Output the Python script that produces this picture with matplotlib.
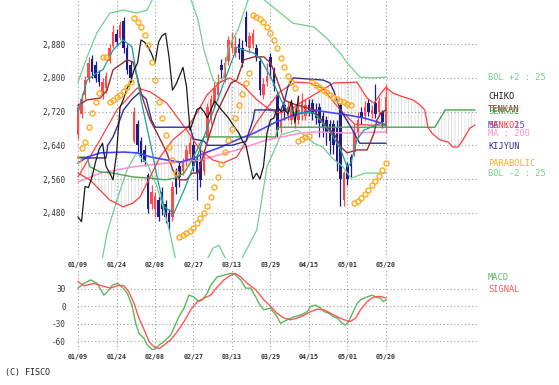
import numpy as np
import matplotlib.pyplot as plt

plt.rcParams['font.family'] = ['DejaVu Sans Mono']
plt.rcParams['hatch.linewidth'] = 0.45

# --- daily candles, bar 0 = 01/09 ---
dates = ['01/09', '01/24', '02/08', '02/27', '03/13', '03/29', '04/15', '05/01', '05/20']
date_pos = [0, 11, 22, 33, 44, 55, 66, 77, 88]

opens = [2665, 2715, 2760, 2800, 2845, 2830, 2810, 2760, 2775, 2840,
         2875, 2905, 2895, 2935, 2870, 2830, 2650, 2690, 2650, 2630,
         2570, 2500, 2490, 2510, 2530, 2500, 2480, 2470, 2575, 2590,
         2580, 2600, 2620, 2640, 2610, 2600, 2580, 2660, 2700, 2740,
         2760, 2830, 2800, 2840, 2870, 2860, 2880, 2870, 2945, 2870,
         2880, 2870, 2840, 2760, 2790, 2850, 2820, 2760, 2680, 2735,
         2710, 2700, 2690, 2700, 2720, 2710, 2735, 2740, 2725, 2730,
         2710, 2700, 2690, 2690, 2680, 2735, 2510, 2590, 2612, 2625,
         2670, 2720, 2710, 2740, 2715, 2740, 2720, 2720, 2680]
closes = [2730, 2750, 2795, 2835, 2815, 2800, 2790, 2790, 2805, 2870,
          2910, 2885, 2925, 2870, 2820, 2800, 2720, 2640, 2615, 2600,
          2490, 2530, 2520, 2470, 2490, 2470, 2459, 2542, 2540, 2565,
          2600, 2630, 2645, 2590, 2575, 2558, 2620, 2730, 2750, 2775,
          2790, 2819, 2835, 2890, 2885, 2874, 2858, 2835, 2885, 2900,
          2906, 2850, 2771, 2785, 2805, 2825, 2780, 2676, 2700, 2725,
          2730, 2720, 2705, 2725, 2745, 2735, 2724, 2715, 2705, 2692,
          2680, 2669, 2650, 2640, 2600, 2560, 2574, 2560, 2590, 2669,
          2700, 2705, 2732, 2720, 2725, 2715, 2745, 2695, 2755]
highs = [2740, 2765, 2805, 2850, 2855, 2840, 2820, 2800, 2815, 2880,
         2925, 2915, 2935, 2945, 2880, 2840, 2730, 2700, 2660, 2640,
         2575, 2545, 2530, 2520, 2540, 2510, 2490, 2555, 2585, 2600,
         2610, 2640, 2660, 2650, 2620, 2640, 2630, 2740, 2760, 2790,
         2810, 2845, 2850, 2900, 2910, 2900, 2895, 2890, 2960, 2910,
         2915, 2880, 2850, 2800, 2835, 2860, 2825, 2770, 2730, 2740,
         2745, 2750, 2730, 2760, 2765, 2750, 2750, 2750, 2740, 2740,
         2720, 2710, 2700, 2700, 2700, 2740, 2580, 2600, 2620, 2690,
         2720, 2730, 2745, 2750, 2735, 2785, 2755, 2725, 2785]
lows = [2655, 2705, 2750, 2790, 2800, 2790, 2780, 2750, 2765, 2835,
        2870, 2875, 2890, 2860, 2810, 2790, 2645, 2625, 2600, 2590,
        2480, 2490, 2470, 2460, 2475, 2455, 2440, 2460, 2525, 2540,
        2570, 2590, 2610, 2580, 2510, 2540, 2570, 2650, 2690, 2730,
        2750, 2800, 2790, 2830, 2860, 2850, 2845, 2825, 2875, 2860,
        2870, 2840, 2760, 2750, 2780, 2800, 2770, 2660, 2670, 2700,
        2700, 2690, 2680, 2690, 2700, 2700, 2710, 2700, 2690, 2660,
        2660, 2640, 2620, 2620, 2580, 2495, 2495, 2545, 2565, 2615,
        2660, 2690, 2700, 2710, 2705, 2705, 2710, 2680, 2670]

parabolic = [2605, 2634, 2648, 2683, 2717, 2743, 2764, 2850, 2850, 2743,
             2748, 2755, 2760, 2769, 2778, 2790, 2942, 2933, 2921, 2902,
             2878, 2838, 2795, 2743, 2705, 2665, 2636, 2605, 2574, 2422,
             2427, 2432, 2436, 2443, 2455, 2467, 2480, 2497, 2517, 2540,
             2565, 2595, 2625, 2652, 2678, 2705, 2735, 2762, 2787, 2812,
             2950, 2945, 2940, 2932, 2920, 2906, 2890, 2870, 2848, 2825,
             2805, 2790, 2776, 2650, 2655, 2660, 2663, 2790, 2784, 2778,
             2772, 2766, 2760, 2755, 2750, 2746, 2742, 2739, 2736, 2503,
             2508, 2515, 2525, 2535, 2545, 2556, 2568, 2581, 2598]

# --- indicator lines: (bar, price) ---
bolu_x = [0, 2.6, 5.4, 9.1, 12.9, 16.9, 19.7, 21.5, 25, 30, 32.3, 34.3, 36, 38.6, 40, 41.5,
          43, 45.7, 48.6, 51, 54.3, 61.4, 67.4, 71, 74.9, 77, 80.6, 84, 88]
bolu_y = [2790, 2850, 2907, 2954, 2961, 2954, 2961, 2990, 3030, 3030, 2985, 2938, 2866, 2795, 2783, 2800,
          2873, 2914, 2985, 3000, 2978, 2930, 2921, 2895, 2859, 2835, 2802, 2800, 2802]
boll_x = [0, 4, 6.9, 8.3, 11.1, 14, 16, 16.9, 17.7, 19.7, 22.6, 24.3, 26.3, 27.7, 30, 35, 38.6,
          40.3, 42, 44, 46.6, 51.1, 54, 58, 62.6, 65.4, 67.4, 70, 72.3, 75.7, 78, 82, 88]
boll_y = [2300, 2330, 2368, 2432, 2510, 2581, 2612, 2624, 2612, 2598, 2541, 2494, 2432, 2375, 2320, 2340, 2396,
          2403, 2373, 2340, 2368, 2439, 2589, 2665, 2676, 2660, 2645, 2636, 2612, 2589, 2562, 2574, 2574]
bolm_x = [0, 6.3, 11.1, 16.9, 20.6, 25.4, 31.1, 34.9, 38.6, 41.4, 45.4, 48.3, 51.1, 54, 57.7,
          62, 66.3, 70, 74.9, 79.1, 83.4, 88]
bolm_y = [2565, 2653, 2724, 2776, 2767, 2740, 2676, 2629, 2605, 2598, 2612, 2653, 2695, 2729, 2767,
          2790, 2788, 2775, 2724, 2690, 2688, 2688]
ma25_x = [0, 2.6, 6.3, 13.1, 16.9, 20.9, 25.4, 29.4, 33.1, 36.9, 40.9, 45.4, 50.3, 56, 61.7,
          67.4, 71.1, 76.9, 81.7, 86.6, 88]
ma25_y = [2598, 2612, 2622, 2624, 2622, 2612, 2605, 2600, 2610, 2624, 2636, 2653, 2669, 2693, 2712,
          2724, 2719, 2712, 2705, 2693, 2688]
ma200_x = [0, 6.3, 15.7, 25.4, 34.9, 45.4, 54, 63.7, 68.3, 76.9, 88]
ma200_y = [2553, 2574, 2589, 2598, 2605, 2629, 2653, 2669, 2672, 2669, 2672]
ma5_x = [0, 2.6, 5.4, 7.1, 10, 12.9, 15.4, 18, 20.9, 22.6, 24.6, 27.4, 30.3, 34, 38, 40.9, 45.4,
         47.4, 50.3, 52.3, 55.1, 58, 59.7, 61.7, 67.4, 72.3, 75.1, 76.9, 78, 79.7, 81.7, 86.6, 88]
ma5_y = [2717, 2795, 2812, 2819, 2866, 2890, 2874, 2748, 2636, 2565, 2494, 2479, 2534, 2612, 2707, 2771, 2873,
         2866, 2859, 2843, 2802, 2748, 2724, 2717, 2717, 2669, 2629, 2589, 2598, 2653, 2676, 2693, 2688]
tenkan_x = [0, 2.6, 6.3, 8.3, 10, 14, 15.7, 16.9, 18.6, 20.6, 22.6, 25.4, 27.1, 29.1, 31, 32.6,
            34.3, 36, 37.7, 39.6, 41.4, 43.7, 45.4, 47.4, 50.3, 53.1, 55.1, 56.9, 58.9, 60.9,
            67.4, 71.1, 73.1, 75.1, 76.9, 79.7, 82.6, 84.6, 85.4, 86.6, 88]
tenkan_y = [2735, 2748, 2752, 2771, 2819, 2843, 2838, 2802, 2748, 2700, 2669, 2622, 2581, 2558, 2558, 2574,
            2574, 2622, 2669, 2717, 2748, 2788, 2795, 2843, 2850, 2850, 2835, 2795, 2748, 2740,
            2724, 2683, 2669, 2636, 2622, 2629, 2629, 2669, 2700, 2717, 2724]
kijun_x = [0, 8, 8.5, 10, 11.5, 13, 15.5, 17.5, 19.5, 21, 22, 32, 33, 36, 37, 44, 48, 50, 50.5,
           58, 59, 60, 61.5, 70, 72, 73, 75, 78, 80.5, 88]
kijun_y = [2610, 2610, 2640, 2660, 2690, 2724, 2750, 2765, 2750, 2700, 2683, 2683, 2655, 2650, 2640, 2640,
           2650, 2700, 2724, 2724, 2745, 2780, 2800, 2795, 2788, 2771, 2724, 2683, 2645, 2645]
senko1_x = [0, 3.4, 9.1, 12.9, 15.7, 17.7, 20.6, 23.4, 27.1, 31.1, 34, 36.9, 40.6, 43.4, 47.1,
            51.1, 54.9, 57.7, 60.6, 63.4, 67.4, 73.1, 79.7, 82.6, 84.6, 86.6, 88, 90, 92.9, 95.7,
            97.7, 99.1, 100, 101.1, 103.4, 105.7, 107.1, 108.6, 110, 112, 113.4]
senko1_y = [2574, 2558, 2510, 2494, 2503, 2517, 2565, 2612, 2653, 2681, 2717, 2760, 2790, 2800, 2783,
            2748, 2724, 2717, 2724, 2740, 2760, 2788, 2790, 2752, 2740, 2764, 2778, 2764, 2755, 2748,
            2736, 2724, 2683, 2669, 2653, 2648, 2636, 2636, 2653, 2681, 2688]
senko2_x = [0, 2.6, 3.4, 6.3, 10, 15.7, 20.6, 24.9, 27.7, 30.3, 32.6, 34.9, 36, 56.5, 57.2,
            102, 104.9, 113.4]
senko2_y = [2612, 2612, 2589, 2577, 2574, 2565, 2562, 2558, 2562, 2574, 2605, 2645, 2660, 2660, 2683,
            2683, 2724, 2724]

# --- MACD panel: (bar, value) ---
macd_x = [0, 1.7, 3.6, 5.5, 7.4, 8.4, 9.8, 11.2, 12.6, 14.1, 15.5, 16.5, 17.4, 18.9, 19.8, 21.2,
          22.2, 23.2, 24.6, 26.5, 27.4, 28.8, 30.3, 31.7, 33.1, 34.6, 35.5, 36.9, 37.9, 39.8,
          41.7, 43.6, 44.5, 46.5, 47.9, 49.3, 50.8, 51.7, 53.1, 55, 56.9, 57.9, 59.8, 61.7,
          63.6, 65.5, 66.5, 67.9, 69.3, 70.3, 71.7, 73.1, 74.1, 75.5, 76.4, 77.4, 78.4, 79.8,
          80.7, 82.6, 84.1, 85, 86.4, 87.2, 88]
macd_v = [31, 39, 45, 39, 19, 25, 36, 39, 33, 22, 0, -29, -46, -55, -66, -74,
          -72, -66, -60, -49, -37, -18, -3, 19, 16, 8, 11, 22, 36, 50,
          53, 56, 56, 45, 31, 31, 16, 5, -6, -3, -18, -29, -23, -18,
          -15, -9, 0, 2, -3, -9, -12, -18, -20, -29, -32, -26, -12, 5,
          11, 16, 19, 16, 14, 8, 11]
signal_x = [0, 1.7, 4.5, 7.4, 9.3, 11.7, 13.1, 14.5, 16, 17.4, 18.9, 20.3, 21.7, 23.2, 24.6,
            26.5, 28.4, 30.3, 32.2, 34.1, 36, 37.9, 39.8, 41.7, 43.6, 45, 46.5, 48.4, 50.8,
            53.1, 55, 56.9, 58.8, 60.8, 62.7, 64.6, 66.5, 68.4, 70.3, 72.2, 74.1, 76, 77.9,
            79.3, 80.7, 82.6, 84.5, 86.4, 88]
signal_v = [42, 35, 39, 34, 31, 36, 35, 25, 5, -20, -40, -60, -69, -72, -66,
            -57, -43, -26, -6, 8, 14, 19, 33, 45, 53, 56, 50, 39, 28,
            11, 0, -12, -20, -23, -20, -15, -9, -5, -6, -12, -18, -23, -26,
            -20, -6, 8, 16, 17, 14]

UP, DOWN = '#ff4a4a', '#1c1c8a'
GRID = dict(color='#9a9a9a', linestyle=(0, (1, 2.2)), linewidth=0.8)

fig = plt.figure(figsize=(5.59, 3.85), dpi=100)
ax = fig.add_axes([77 / 559, 1 - 258 / 385, 401 / 559, 258 / 385])
ax2 = fig.add_axes([77 / 559, 1 - 350 / 385, 401 / 559, 80 / 385])

xlim = (-0.29, 114.3)

# ichimoku cloud hatching
cx = np.r_[senko1_x, senko2_x[::-1]]
cy = np.r_[senko1_y, senko2_y[::-1]]
ax.fill(cx, cy, facecolor='none', edgecolor='#d2d2d2', hatch='|||||', linewidth=0, zorder=1)

# candles
idx = np.arange(len(closes))
o = np.array(opens)
c = np.array(closes)
col = [UP if cc >= oo else DOWN for oo, cc in zip(o, c)]
ax.vlines(idx, lows, highs, colors=col, linewidth=0.9, zorder=2)
ax.bar(idx, np.maximum(np.abs(c - o), 2), bottom=np.minimum(o, c), width=0.65, color=col,
       linewidth=0, zorder=2)

lines = [
    (bolu_x, bolu_y, '#6fd08c', 0.9),
    (boll_x, boll_y, '#6fd08c', 0.9),
    (ma200_x, ma200_y, '#ff8fd0', 1.1),
    (senko2_x, senko2_y, '#4fa24f', 1.0),
    (senko1_x, senko1_y, '#ff3b3b', 0.9),
    (bolm_x, bolm_y, '#ff4040', 0.9),
    (ma25_x, ma25_y, '#4646ff', 1.2),
    (kijun_x, kijun_y, '#2e2e96', 1.0),
    (tenkan_x, tenkan_y, '#9b2f2f', 1.0),
    (ma5_x, ma5_y, '#1f9c9c', 0.9),
]
for xs, ys, clr, lw in lines:
    ax.plot(xs, ys, color=clr, linewidth=lw, zorder=3)

# chiko span: close shifted 25 bars back
chiko = closes[25:]
ax.plot(np.arange(len(chiko)), chiko, color='#1a1a1a', linewidth=0.9, zorder=3)

ax.plot(idx, parabolic, linestyle='none', marker='o', markersize=3.6, markerfacecolor='none',
        markeredgecolor='#ffaa22', markeredgewidth=1.0, zorder=4)

ax.set_xlim(*xlim)
ax.set_ylim(2372.5, 2985)
yt = [2480, 2560, 2640, 2720, 2800, 2880]
ax.set_yticks(yt)
ax.set_yticklabels([f'{v:,}' for v in yt], fontsize=5.6, color='#333333')
ax.set_xticks(date_pos)
ax.set_xticklabels(dates, fontsize=4.8, fontweight='bold', color='#333333')
ax.tick_params(length=0, pad=3)
ax.tick_params(axis='y', pad=8)
ax.grid(True, **GRID)
for s in ax.spines.values():
    s.set_visible(False)

# right-hand labels at the last value of each line (overlapping, as on the source chart)
labels = [
    ('BOL +2 : 25', bolu_y[-1], '#6fd08c'),
    ('CHIKO', closes[-1], '#1a1a1a'),
    ('TENKAN', tenkan_y[-1], '#9b2f2f'),
    ('SENKO2', senko2_y[-1] - 3, '#4fa24f'),
    ('MA : 25', ma25_y[-1], '#4646ff'),
    ('SENKO1', senko1_y[-1] - 2, '#ff3b3b'),
    ('MA : 200', ma200_y[-1] - 3, '#ff8fd0'),
    ('KIJYUN', kijun_y[-1] - 7, '#2e2e96'),
    ('PARABOLIC', parabolic[-1], '#ffaa22'),
    ('BOL -2 : 25', boll_y[-1], '#6fd08c'),
]
for txt, yv, clr in labels:
    ax.text(117.2, yv, txt, color=clr, fontsize=6.2, va='center', ha='left', clip_on=False)

# MACD panel
ax2.plot(macd_x, macd_v, color='#5cb85c', linewidth=1.0)
ax2.plot(signal_x, signal_v, color='#ff5555', linewidth=1.0)
ax2.set_xlim(*xlim)
ax2.set_ylim(-74.5, 61.9)
ax2.set_yticks([30, 0, -30, -60])
ax2.set_yticklabels(['30', '0', '-30', '-60'], fontsize=5.6, color='#333333')
ax2.set_xticks(date_pos)
ax2.set_xticklabels(dates, fontsize=4.8, fontweight='bold', color='#333333')
ax2.tick_params(length=0, pad=3)
ax2.tick_params(axis='y', pad=8)
ax2.grid(True, **GRID)
for s in ax2.spines.values():
    s.set_visible(False)
ax2.text(1.025, 0.9, 'MACD', transform=ax2.transAxes, color='#5cb85c', fontsize=6.2, va='center')
ax2.text(1.025, 0.7625, 'SIGNAL', transform=ax2.transAxes, color='#ff5555', fontsize=6.2, va='center')

fig.text(5 / 559, 1 - 372 / 385, '(C) FISCO', fontsize=6, color='#222222', va='center')

fig.savefig('out.png', dpi=100)
